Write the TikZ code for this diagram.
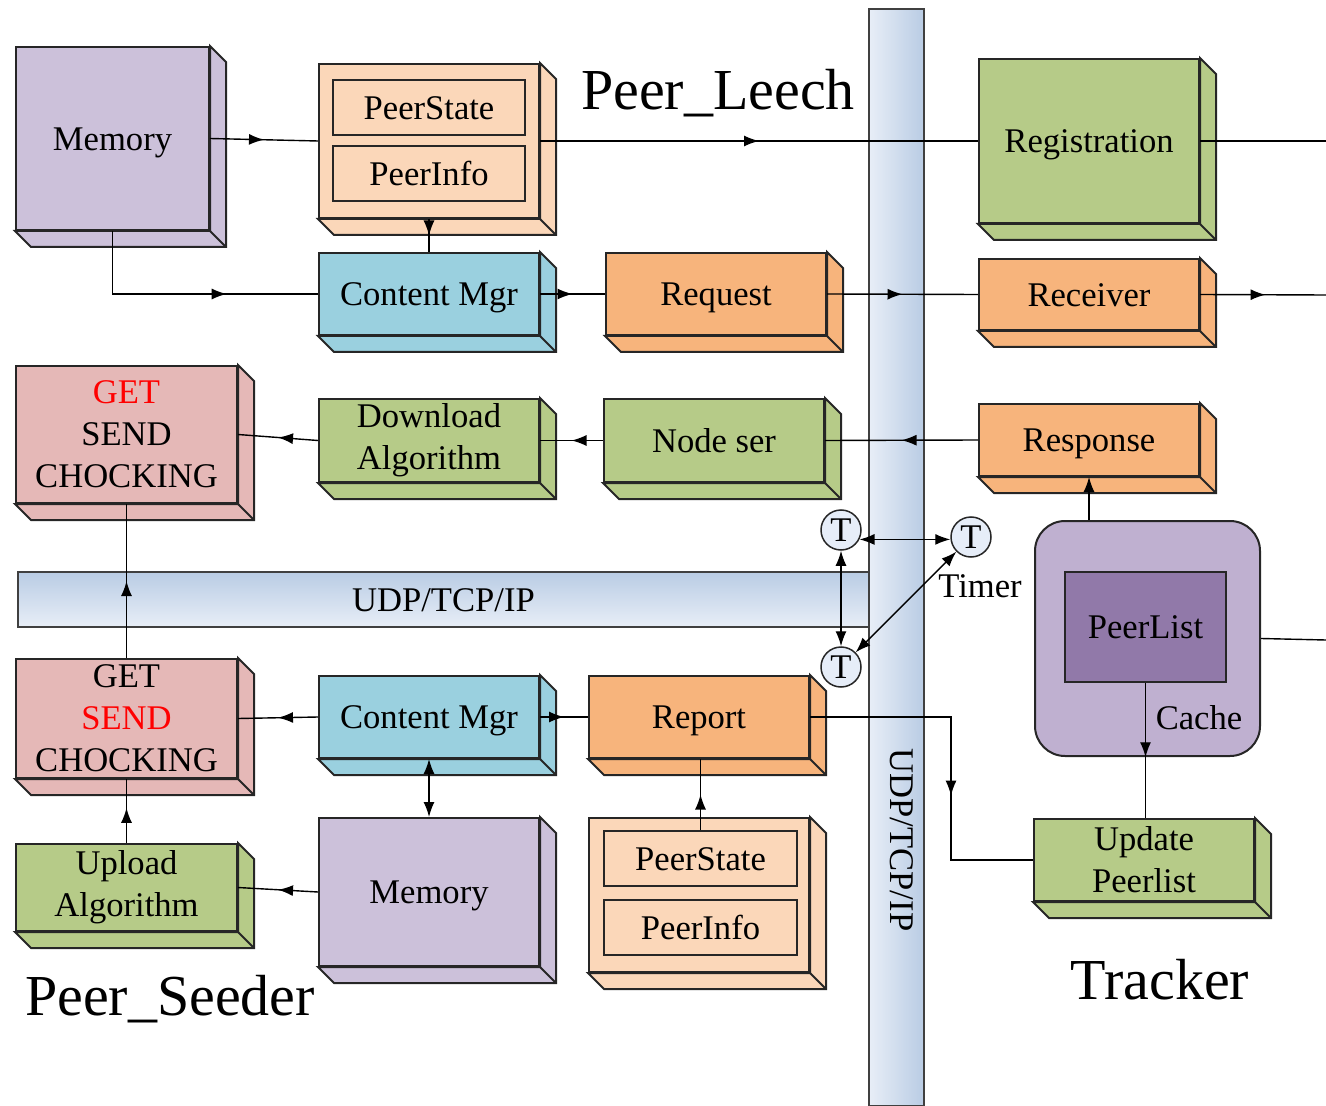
\documentclass[tikz,border=0pt]{standalone}
\usepackage{fontspec}
\setmainfont{Liberation Serif}
\usetikzlibrary{arrows.meta,decorations.markings}

\newlength{\du}
\setlength{\du}{0.5pt}

\definecolor{memcolor}{RGB}{204,193,218}
\definecolor{peachcolor}{RGB}{251,215,185}
\definecolor{mgrcolor}{RGB}{154,208,223}
\definecolor{orangecolor}{RGB}{247,180,124}
\definecolor{greencolor}{RGB}{182,203,136}
\definecolor{pinkcolor}{RGB}{229,184,183}
\definecolor{cachecolor}{RGB}{191,176,208}
\definecolor{listcolor}{RGB}{145,121,169}
\definecolor{barlight}{RGB}{232,238,247}
\definecolor{bardark}{RGB}{185,204,228}
\definecolor{timercolor}{RGB}{230,237,248}

\newcommand{\boxfont}{\fontsize{17.3}{21}\selectfont}
\newcommand{\titlefont}{\fontsize{29}{34}\selectfont}

\tikzset{
  boxline/.style={line width=2\du, draw=black!85},
  link/.style={line width=1.4\du, draw=black},
  cube/.style={boxline, fill=#1, minimum width=220\du, inner sep=0pt, align=center, font=\boxfont},
  oneline/.style={text height=11.6pt, text depth=0pt},
  bus/.style={line width=1.6\du, draw=black!75, inner sep=0pt, font=\boxfont},
  timer/.style={circle, draw=black!85, line width=1.5\du, fill=timercolor, minimum size=40\du, inner sep=0pt, font=\boxfont},
  flow/.style={decoration={markings, mark=at position #1 with {\arrow{Latex[length=7.5pt,width=5.5pt]}}}, postaction={decorate}},
  endarrow/.style={-{Latex[length=7.5pt,width=5.5pt]}},
  twoarrow/.style={{Latex[length=7.5pt,width=5.5pt]}-{Latex[length=7.5pt,width=5.5pt]}}
}

% right and bottom faces of a box
\newcommand{\cubeside}[2]{%
  \filldraw[fill=#2, boxline] (#1.north east) -- ++(16,16) |- ([shift={(16,16)}]#1.south west) -- (#1.south west) -- (#1.south east) -- cycle;
  \draw[boxline] (#1.south east) -- ++(16,16);}

\begin{document}
\begin{tikzpicture}[x=\du,y=-\du]
\useasboundingbox (0,0) rectangle (1326,1106);

% buses
\node[bus, left color=barlight, right color=bardark, minimum width=55\du, minimum height=1097\du] (vbus) at (896.5,557.5) {};
\node[bus, oneline, top color=bardark, bottom color=barlight, minimum width=851\du, minimum height=55\du] (hbus) at (443.5,599.5) {UDP/TCP/IP};
\node[font=\boxfont, rotate=-90] (vbuslabel) at (902,840) {UDP/TCP/IP};

% Peer_Leech
\node[cube=memcolor, oneline, minimum width=193\du, minimum height=183\du] (memA) at (112.5,138.5) {Memory};
\cubeside{memA}{memcolor}
\node[cube=peachcolor, minimum height=154\du] (psA) at (429,141) {};
\cubeside{psA}{peachcolor}
\node[cube=peachcolor, oneline, minimum width=192\du, minimum height=55\du] (stA) at (429,107.5) {PeerState};
\node[cube=peachcolor, oneline, minimum width=192\du, minimum height=55\du] (infA) at (429,173.5) {PeerInfo};
\node[cube=mgrcolor, oneline, minimum height=82\du] (cmA) at (429,294) {Content Mgr};
\cubeside{cmA}{mgrcolor}
\node[cube=orangecolor, oneline, minimum height=82\du] (req) at (716,294) {Request};
\cubeside{req}{orangecolor}
\node[cube=pinkcolor, minimum width=221\du, minimum height=137\du] (gsA) at (126.5,434.5) {{\color{red}GET}\\SEND\\CHOCKING};
\cubeside{gsA}{pinkcolor}
\node[cube=greencolor, minimum height=83\du] (dl) at (429,440.5) {Download\\Algorithm};
\cubeside{dl}{greencolor}
\node[cube=greencolor, oneline, minimum height=83\du] (nser) at (714,440.5) {Node ser};
\cubeside{nser}{greencolor}
\node[font=\titlefont] (leech) at (718,93) {Peer\_Leech};

% Peer_Seeder
\node[cube=pinkcolor, minimum width=221\du, minimum height=119\du] (gsB) at (126.5,718.5) {GET\\{\color{red}SEND}\\CHOCKING};
\cubeside{gsB}{pinkcolor}
\node[cube=mgrcolor, oneline, minimum height=82\du] (cmB) at (429,717) {Content Mgr};
\cubeside{cmB}{mgrcolor}
\node[cube=orangecolor, oneline, minimum height=82\du] (rep) at (699,717) {Report};
\cubeside{rep}{orangecolor}
\node[cube=greencolor, minimum width=221\du, minimum height=87\du] (ul) at (126.5,887.5) {Upload\\Algorithm};
\cubeside{ul}{greencolor}
\node[cube=memcolor, oneline, minimum height=148\du] (memB) at (429,892) {Memory};
\cubeside{memB}{memcolor}
\node[cube=peachcolor, minimum height=154\du] (psB) at (699,895) {};
\cubeside{psB}{peachcolor}
\node[cube=peachcolor, oneline, minimum width=193\du, minimum height=55\du] (stB) at (700.5,858.5) {PeerState};
\node[cube=peachcolor, oneline, minimum width=193\du, minimum height=55\du] (infB) at (700.5,927.5) {PeerInfo};
\node[font=\titlefont] (seeder) at (170,999) {Peer\_Seeder};

% Tracker
\node[cube=greencolor, oneline, minimum height=164\du] (reg) at (1089,141) {Registration};
\cubeside{reg}{greencolor}
\node[cube=orangecolor, oneline, minimum height=71\du] (recv) at (1089,294.5) {Receiver};
\cubeside{recv}{orangecolor}
\node[cube=orangecolor, oneline, minimum height=72\du] (resp) at (1089,440) {Response};
\cubeside{resp}{orangecolor}
\node[boxline, fill=cachecolor, rounded corners=30\du, minimum width=225\du, minimum height=235\du] (cache) at (1147.5,638.5) {};
\node[boxline, oneline, fill=listcolor, minimum width=161\du, minimum height=110\du, font=\boxfont] (plist) at (1145.5,627) {PeerList};
\node[font=\boxfont] (cachelabel) at (1199,718) {Cache};
\node[cube=greencolor, minimum height=82\du] (upd) at (1144,860) {Update\\Peerlist};
\cubeside{upd}{greencolor}
\node[font=\titlefont] (tracker) at (1160,980) {Tracker};

% timers
\node[timer] (T1) at (841,530) {T};
\node[timer] (T2) at (971,537) {T};
\node[timer] (T3) at (841,667) {T};
\node[font=\boxfont] (timerlabel) at (980,586) {Timer};

\coordinate (edgeA) at (1326,141);
\coordinate (edgeB) at (1326,295);
\coordinate (edgeC) at (1326,640);
\coordinate (rbend) at (951,717);

% connectors
\draw[link, flow=0.5] (memA.east) -- (psA.west);
\draw[link, flow=0.66] (memA.south) |- (cmA.west);
\draw[link, flow=0.5] (psA.south) -- (cmA.north);
\draw[link, flow=0.5] (psA.east) -- (reg.west);
\draw[link, flow=0.5] (cmA.east) -- (req.west);
\draw[link, flow=0.5] (req.east) -- (recv.west);
\draw[link, flow=0.52] (recv.east) -- (edgeB);
\draw[link] (reg.east) -- (edgeA);
\draw[link, flow=0.5] (resp.west) -- (nser.east);
\draw[link, flow=0.5] (nser.west) -- (dl.east);
\draw[link, flow=0.5] (dl.west) -- (gsA.east);
\draw[link, flow=0.5] (gsB.north) -- (gsA.south);
\draw[link, flow=0.55] (ul.north) -- (gsB.south);
\draw[link, flow=0.5] (cmB.west) -- (gsB.east);
\draw[link, flow=0.5] (cmB.east) -- (rep.west);
\draw[link, twoarrow] (cmB.south) -- (memB.north);
\draw[link, flow=0.5] (memB.west) -- (ul.east);
\draw[link, flow=0.5] (stB.north) -- (stB.north |- rep.south);
\draw[link, flow=0.6] (rep.east) -- (rbend) |- (upd.west);
\draw[link, twoarrow] (T1.-27) -- (T1.-27 -| T2.west);
\draw[link, twoarrow] (T1) -- (T3);
\draw[link, twoarrow] (T2) -- (T3);
\draw[link, endarrow] (resp.south |- cache.north) -- (resp.south);
\draw[link, flow=0.55] (plist.south) -- (plist.south |- upd.north);
\draw[link] (cache.east) -- (edgeC);
\end{tikzpicture}
\end{document}
